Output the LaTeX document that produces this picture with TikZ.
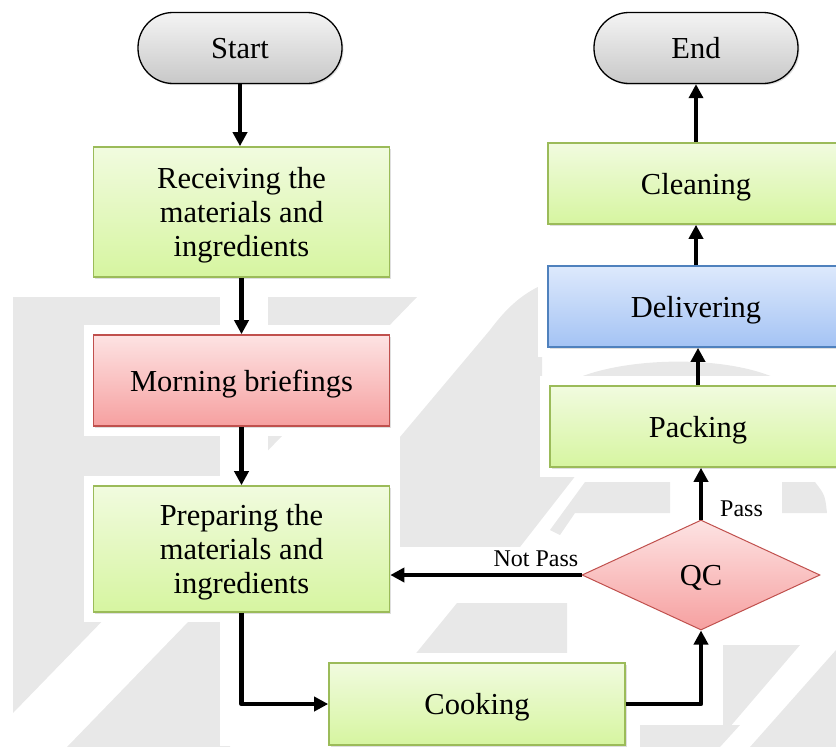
\documentclass[tikz,border=0pt]{standalone}
\usepackage{fontspec}
\setmainfont{Liberation Serif}
\usetikzlibrary{arrows.meta,shapes.geometric,shadows,calc}
\pgfdeclarelayer{bg}
\pgfsetlayers{bg,main}
\definecolor{grnT}{HTML}{F1FBDF}
\definecolor{grnD}{HTML}{D6F5A0}
\definecolor{grnB}{HTML}{9BBB59}
\definecolor{redT}{HTML}{FDE3E3}
\definecolor{redD}{HTML}{F6A0A0}
\definecolor{redB}{HTML}{C0504D}
\definecolor{bluT}{HTML}{DDE9FC}
\definecolor{bluD}{HTML}{A4C3F4}
\definecolor{bluB}{HTML}{4F81BD}
\definecolor{gryT}{HTML}{F4F4F4}
\definecolor{gryD}{HTML}{C8C8C8}
\definecolor{wmgray}{HTML}{E8E8E8}
\newcommand\lowr[1]{\raisebox{-4pt}[\height][\depth]{\begin{tabular}{@{}c@{}}#1\end{tabular}}}
\begin{document}
\begin{tikzpicture}[x=1pt,y=-1pt,
  box/.style={draw, line width=1.6pt, minimum width=296pt, inner sep=0pt,
    font=\fontsize{30.5}{34}\selectfont,
    drop shadow={shadow xshift=1.5pt, shadow yshift=-1.5pt, opacity=0.25}},
  greenbox/.style={box, draw=grnB, top color=grnT, bottom color=grnD},
  redbox/.style={box, draw=redB, top color=redT, bottom color=redD},
  bluebox/.style={box, draw=bluB, top color=bluT, bottom color=bluD},
  term/.style={draw=black, line width=1.3pt, rounded corners=35pt, minimum width=204pt,
    minimum height=71pt, inner sep=0pt, top color=gryT, bottom color=gryD,
    font=\fontsize{30.5}{34}\selectfont,
    drop shadow={shadow xshift=1.5pt, shadow yshift=-1.5pt, opacity=0.25}},
  qcshape/.style={diamond, aspect=2.16, draw=redB, line width=1pt, minimum width=238pt,
    minimum height=110pt, inner sep=0pt, top color=redT, bottom color=redD,
    font=\fontsize{30.5}{34}\selectfont},
  arr/.style={line width=4.6pt, line join=round, -{Triangle[length=14pt,width=14pt]}},
  lbl/.style={font=\fontsize{24}{26}\selectfont, inner sep=0pt},
  wm/.style={fill=wmgray},
  halo/.style={fill=white}]
\useasboundingbox (0,0) rectangle (836,747);
\clip (0,0) rectangle (836,747);

% nodes
\node[term] (start) at (240,48) {\lowr{Start}};
\node[greenbox, minimum height=130pt] (recv) at (241.5,212) {\lowr{Receiving the\\materials and\\ingredients}};
\node[redbox, minimum height=91pt] (brief) at (241.5,380.5) {\lowr{Morning briefings}};
\node[greenbox, minimum height=126pt] (prep) at (241.5,549) {\lowr{Preparing the\\materials and\\ingredients}};
\node[greenbox, minimum height=82pt] (cook) at (477,704) {\lowr{Cooking}};
\node[qcshape] (qc) at (701,575) {\lowr{QC}};
\node[greenbox, minimum height=81pt] (pack) at (698,426.5) {\lowr{Packing}};
\node[bluebox, minimum height=81pt] (deliv) at (696,306.5) {\lowr{Delivering}};
\node[greenbox, minimum height=81pt] (clean) at (696,183.5) {\lowr{Cleaning}};
\node[term] (end) at (696,48) {\lowr{End}};

% connectors
\draw[arr] (start.south) -- (start.south |- recv.north);
\draw[arr] (recv.south) -- (brief.north);
\draw[arr] (brief.south) -- (prep.north);
\draw[arr] (prep.south) |- (cook.west);
\draw[arr] (cook.east) -| (qc.south);
\draw[arr] (qc.west) -- (qc.west -| prep.east);
\draw[arr] (qc.north) -- (qc.north |- pack.south);
\draw[arr] (pack.north) -- (pack.north |- deliv.south);
\draw[arr] (deliv.north) -- (clean.south);
\draw[arr] (clean.north) -- (end.south);

% labels
\node[lbl, anchor=south east] (np) at ([shift={(-3,-8)}]qc.west) {Not Pass};
\node[lbl, anchor=south west] (ps) at ([shift={(19,-3)}]qc.north) {Pass};

% faint background watermark
\begin{pgfonlayer}{bg}
\fill[wm] (13,297) -- (417,297) -- (13,713) -- cycle;
\fill[wm] (67,747) -- (230,747) -- (230,620) -- (190,620) -- cycle;
\fill[wm] (400,547) -- (400,437) -- (490,330) .. controls (505,310) and (520,295) .. (542,285)
  -- (542,400) -- (580,400) -- (580,470) -- (520,547) -- cycle;
\fill[wm] (413,657) -- (567,657) -- (567,603) -- (457,603) -- cycle;
\fill[wm] (550,530) -- (585,482) -- (670,482) -- (670,513) -- (575,513) -- (560,535) -- cycle;
\fill[wm] (782,482) -- (815,482) .. controls (825,495) .. (827,513) -- (782,513) -- cycle;
\fill[wm] (562,386) .. controls (610,355) and (740,352) .. (790,386) -- cycle;
\fill[wm] (723,645) -- (800,645) -- (723,735) -- cycle;
\fill[wm] (836,650) -- (836,747) -- (750,747) -- cycle;
\fill[wm] (640,725) -- (740,725) -- (720,747) -- (640,747) -- cycle;
% white clearings round nodes, connectors and labels
\foreach \n in {start,recv,brief,prep,cook,pack,deliv,clean,end}
  \fill[halo] ([shift={(-9,9)}]\n.south west) rectangle ([shift={(9,-9)}]\n.north east);
\fill[halo] ([xshift=-22pt]recv.north) rectangle ([xshift=26pt]start.south);
\fill[halo] ([xshift=-22pt]brief.north) rectangle ([xshift=26pt]recv.south);
\fill[halo] ([xshift=-22pt]prep.north) rectangle ([xshift=26pt]brief.south);
\fill[halo] ([xshift=-22pt]prep.south) rectangle ([xshift=26pt]prep.south |- cook.south);
\fill[halo] ([shift={(0,-28)}]qc.west -| prep.east) rectangle ([shift={(0,28)}]qc.west);
\fill[halo] ([shift={(-12,4)}]ps.south west) rectangle ([shift={(8,-4)}]ps.north east);
\fill[halo] ([xshift=-22pt]qc.north) rectangle ([xshift=22pt]pack.south);
\end{pgfonlayer}
\end{tikzpicture}
\end{document}
